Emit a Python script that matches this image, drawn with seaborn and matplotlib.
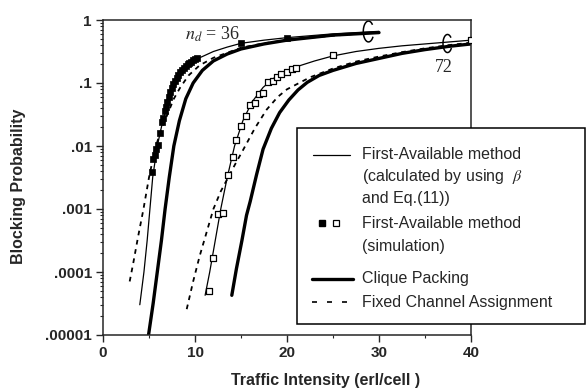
import numpy as np
import pandas as pd
import matplotlib
matplotlib.use("Agg")
import matplotlib.pyplot as plt
import seaborn as sns
from matplotlib.path import Path
from matplotlib.lines import Line2D
from matplotlib.patches import Rectangle
from matplotlib.ticker import FixedLocator, FixedFormatter, MultipleLocator, LogLocator, NullFormatter

# ---------------- data (x: erl/cell, values: log10 of blocking probability) ----------------
fa36_x = [4.0, 4.45, 4.8, 5.1, 5.4, 5.9, 6.5, 7.2, 8.0, 8.8, 9.6, 10.5, 12, 13.5, 15, 17.5, 20, 22.5, 25, 27.5, 30]
fa36_lg = [-4.52, -4.0, -3.5, -3.0, -2.5, -2.0, -1.6, -1.25, -0.98, -0.8, -0.68, -0.6, -0.5, -0.43, -0.37, -0.32, -0.28, -0.25, -0.22, -0.2, -0.18]

cp36_x = [4.95, 5.45, 5.9, 6.35, 6.75, 7.2, 7.7, 8.3, 9.0, 9.8, 10.8, 12, 13.5, 15, 17.5, 20, 22.5, 25, 27.5, 30]
cp36_lg = [-5.0, -4.5, -4.0, -3.5, -3.0, -2.5, -2.0, -1.6, -1.25, -1.0, -0.8, -0.65, -0.54, -0.46, -0.38, -0.32, -0.28, -0.24, -0.22, -0.2]

fca36_x = [2.9, 3.3, 3.8, 4.4, 5.0, 5.65, 6.3, 7.0, 7.7, 8.4, 9.3, 10.5, 12, 13.5, 15, 17.5, 20, 22.5, 25, 27.5, 30]
fca36_lg = [-4.15, -3.85, -3.45, -3.0, -2.5, -2.05, -1.75, -1.5, -1.25, -1.07, -0.88, -0.72, -0.6, -0.52, -0.44, -0.37, -0.32, -0.28, -0.25, -0.22, -0.2]

sim36_x = [5.3, 5.45, 5.6, 5.8, 6.0, 6.2, 6.4, 6.5, 6.7, 6.85, 7.0, 7.15, 7.3, 7.45, 7.6, 7.8, 8.0, 8.2,
           8.4, 8.6, 8.8, 9.0, 9.2, 9.4, 9.6, 9.8, 10.0, 10.2, 15, 20]
sim36_lg = [-2.41, -2.2, -2.15, -2.05, -1.98, -1.8, -1.62, -1.55, -1.45, -1.38, -1.3, -1.22, -1.15, -1.08, -1.02,
            -0.97, -0.92, -0.87, -0.83, -0.79, -0.76, -0.73, -0.7, -0.68, -0.66, -0.64, -0.62, -0.6, -0.365, -0.29]

fa72_x = [11.1, 11.6, 12.2, 12.8, 13.5, 14.3, 15.2, 16.2, 17.4, 18.6, 20, 21.5, 23, 25, 27.5, 30, 32.5, 35, 37.5, 40]
fa72_lg = [-4.37, -4.0, -3.5, -3.0, -2.5, -2.0, -1.6, -1.3, -1.07, -0.92, -0.8, -0.72, -0.65, -0.57, -0.5, -0.45, -0.41, -0.38, -0.35, -0.32]

cp72_x = [14.0, 14.5, 15.1, 15.6, 16.0, 16.7, 17.4, 18.3, 19.2, 20.2, 21.2, 22.2, 23.5, 25, 27.5, 30, 32.5, 35, 37.5, 40]
cp72_lg = [-4.37, -3.95, -3.5, -3.1, -2.88, -2.45, -2.05, -1.72, -1.47, -1.27, -1.11, -0.99, -0.88, -0.8, -0.69, -0.61, -0.53, -0.47, -0.42, -0.38]

fca72_x = [9.1, 9.8, 10.5, 11.2, 12.0, 12.8, 13.6, 14.4, 15.2, 16.5, 17.8, 19.0, 20, 22.5, 25, 27.5, 30, 32.5, 35, 37.5, 40]
fca72_lg = [-4.59, -4.15, -3.75, -3.4, -3.0, -2.72, -2.5, -2.28, -2.07, -1.72, -1.42, -1.22, -1.1, -0.91, -0.77, -0.66, -0.58, -0.51, -0.45, -0.4, -0.36]

sim72_x = [11.5, 12.0, 12.5, 13.0, 13.6, 14.1, 14.5, 15.0, 15.5, 16.0, 16.5, 17.0, 17.4, 17.9, 18.5, 18.9,
           19.4, 20.0, 20.5, 21.0, 25, 40]
sim72_lg = [-4.3, -3.78, -3.08, -3.06, -2.46, -2.17, -1.9, -1.68, -1.52, -1.35, -1.31, -1.17, -1.16, -0.98, -0.97,
            -0.9, -0.85, -0.82, -0.77, -0.76, -0.56, -0.32]

group_marks_x = [28.8, 37.4]
group_marks_lg = [-0.17, -0.37]

ytick_vals = [1e-5, 1e-4, 1e-3, 1e-2, 1e-1, 1]
ytick_labels = [".00001", ".0001", ".001", ".01", ".1", "1"]
xtick_vals = [0, 10, 20, 30, 40]

# ---------------- figure ----------------
sns.set_style("ticks")
plt.rcParams["font.family"] = ["Liberation Sans", "DejaVu Sans"]
plt.rcParams["mathtext.fontset"] = "stix"

W, H = 586, 390
fig = plt.figure(figsize=(W / 100, H / 100), dpi=100)
ax = fig.add_axes([103 / W, 1 - 335 / H, (471 - 103) / W, (335 - 20) / H])

def frame(x, lg, name):
    return pd.DataFrame({"x": x, "p": 10 ** np.array(lg, dtype=float), "curve": name})

curves = pd.concat([
    frame(fa36_x, fa36_lg, "fa36"), frame(cp36_x, cp36_lg, "cp36"), frame(fca36_x, fca36_lg, "fca36"),
    frame(fa72_x, fa72_lg, "fa72"), frame(cp72_x, cp72_lg, "cp72"), frame(fca72_x, fca72_lg, "fca72"),
])
styles = {
    "fa36": dict(lw=0.9, linestyle="-"), "fa72": dict(lw=0.9, linestyle="-"),
    "cp36": dict(lw=2.4, linestyle="-"), "cp72": dict(lw=2.4, linestyle="-"),
    "fca36": dict(lw=1.3, linestyle=(0, (2.6, 2.6))), "fca72": dict(lw=1.3, linestyle=(0, (2.6, 2.6))),
}
for name, st in styles.items():
    sns.lineplot(data=curves[curves.curve == name], x="x", y="p", ax=ax, color="black",
                 estimator=None, sort=False, **st)

sim36 = frame(sim36_x, sim36_lg, "sim36")
sim72 = frame(sim72_x, sim72_lg, "sim72")
sns.scatterplot(data=sim36, x="x", y="p", ax=ax, marker="s", s=16, color="black",
                edgecolor="black", linewidth=0.5, zorder=4)
sns.scatterplot(data=sim72, x="x", y="p", ax=ax, marker="s", s=22, facecolor="white",
                edgecolor="black", linewidth=0.9, zorder=4)

# group ellipses ("C" shaped)
t = np.linspace(np.deg2rad(40), np.deg2rad(330), 60)
ell = Path(np.column_stack([0.5 * np.cos(t), np.sin(t)]))
ax.plot(group_marks_x[:1], [10 ** group_marks_lg[0]], marker=ell, ms=15, mfc="none", mec="black", mew=1.1, ls="none")
ax.plot(group_marks_x[1:], [10 ** group_marks_lg[1]], marker=ell, ms=13, mfc="none", mec="black", mew=1.1, ls="none")

ax.text(8.9, 10 ** (-20 / 63), r"$n_d$ = 36", family="Liberation Serif", fontsize=13, ha="left", va="baseline")
ax.text(37.0, 10 ** (-(68 - 20) / 63), "72", family="Liberation Serif", fontsize=13, ha="center", va="center")

ax.set_yscale("log")
ax.set_xlim(0, 40)
ax.set_ylim(1e-5, 1)
ax.yaxis.set_major_locator(FixedLocator(ytick_vals))
ax.yaxis.set_major_formatter(FixedFormatter(ytick_labels))
ax.yaxis.set_minor_locator(LogLocator(base=10, subs=np.arange(2, 10), numticks=20))
ax.yaxis.set_minor_formatter(NullFormatter())
ax.xaxis.set_major_locator(FixedLocator(xtick_vals))
ax.xaxis.set_minor_locator(MultipleLocator(5))
ax.set_xlabel("")
ax.set_ylabel("")
for sp in ax.spines.values():
    sp.set_linewidth(1.1)
    sp.set_visible(True)
ax.tick_params(which="major", direction="out", length=5, width=1.0, labelsize=11, pad=3)
ax.tick_params(which="minor", direction="out", length=2.5, width=0.8)
for lab in ax.get_xticklabels() + ax.get_yticklabels():
    lab.set_fontweight("bold")

fig.text(19 / W, 1 - 186 / H, "Blocking Probability", rotation=90, ha="center", va="center",
         fontsize=11.5, fontweight="bold")
fig.text(326 / W, 1 - 380 / H, "Traffic Intensity (erl/cell )", ha="center", va="center",
         fontsize=11.5, fontweight="bold")

# ---------------- legend (drawn in figure pixels) ----------------
def fx(px):
    return px / W

def fy(py):
    return 1 - py / H

tf = fig.transFigure
fig.add_artist(Rectangle((fx(297), fy(324)), (585 - 297) / W, (324 - 128) / H, transform=tf,
                         facecolor="white", edgecolor="black", lw=1.1, zorder=5))
fig.add_artist(Line2D([fx(313), fx(350)], [fy(155)] * 2, transform=tf, color="black", lw=0.9, zorder=6))
fig.add_artist(Line2D([fx(322)], [fy(223)], transform=tf, marker="s", ms=4.5, mfc="black", mec="black",
                      ls="none", zorder=6))
fig.add_artist(Line2D([fx(336)], [fy(223)], transform=tf, marker="s", ms=4.5, mfc="white", mec="black",
                      mew=0.9, ls="none", zorder=6))
fig.add_artist(Line2D([fx(312), fx(353)], [fy(279)] * 2, transform=tf, color="black", lw=2.4, zorder=6))
fig.add_artist(Line2D([fx(312), fx(353)], [fy(302)] * 2, transform=tf, color="black", lw=1.2,
                      linestyle=(0, (3, 6)), zorder=6))
legend_lines = [
    (155, "First-Available method"),
    (177, r"(calculated by using  $\beta$"),
    (198, "and Eq.(11))"),
    (223, "First-Available method"),
    (247, "(simulation)"),
    (279, "Clique Packing"),
    (302, "Fixed Channel Assignment"),
]
for py, s in legend_lines:
    fig.text(fx(362), fy(py), s, ha="left", va="center", fontsize=11.5, zorder=7)

fig.savefig("out.png", dpi=100)
